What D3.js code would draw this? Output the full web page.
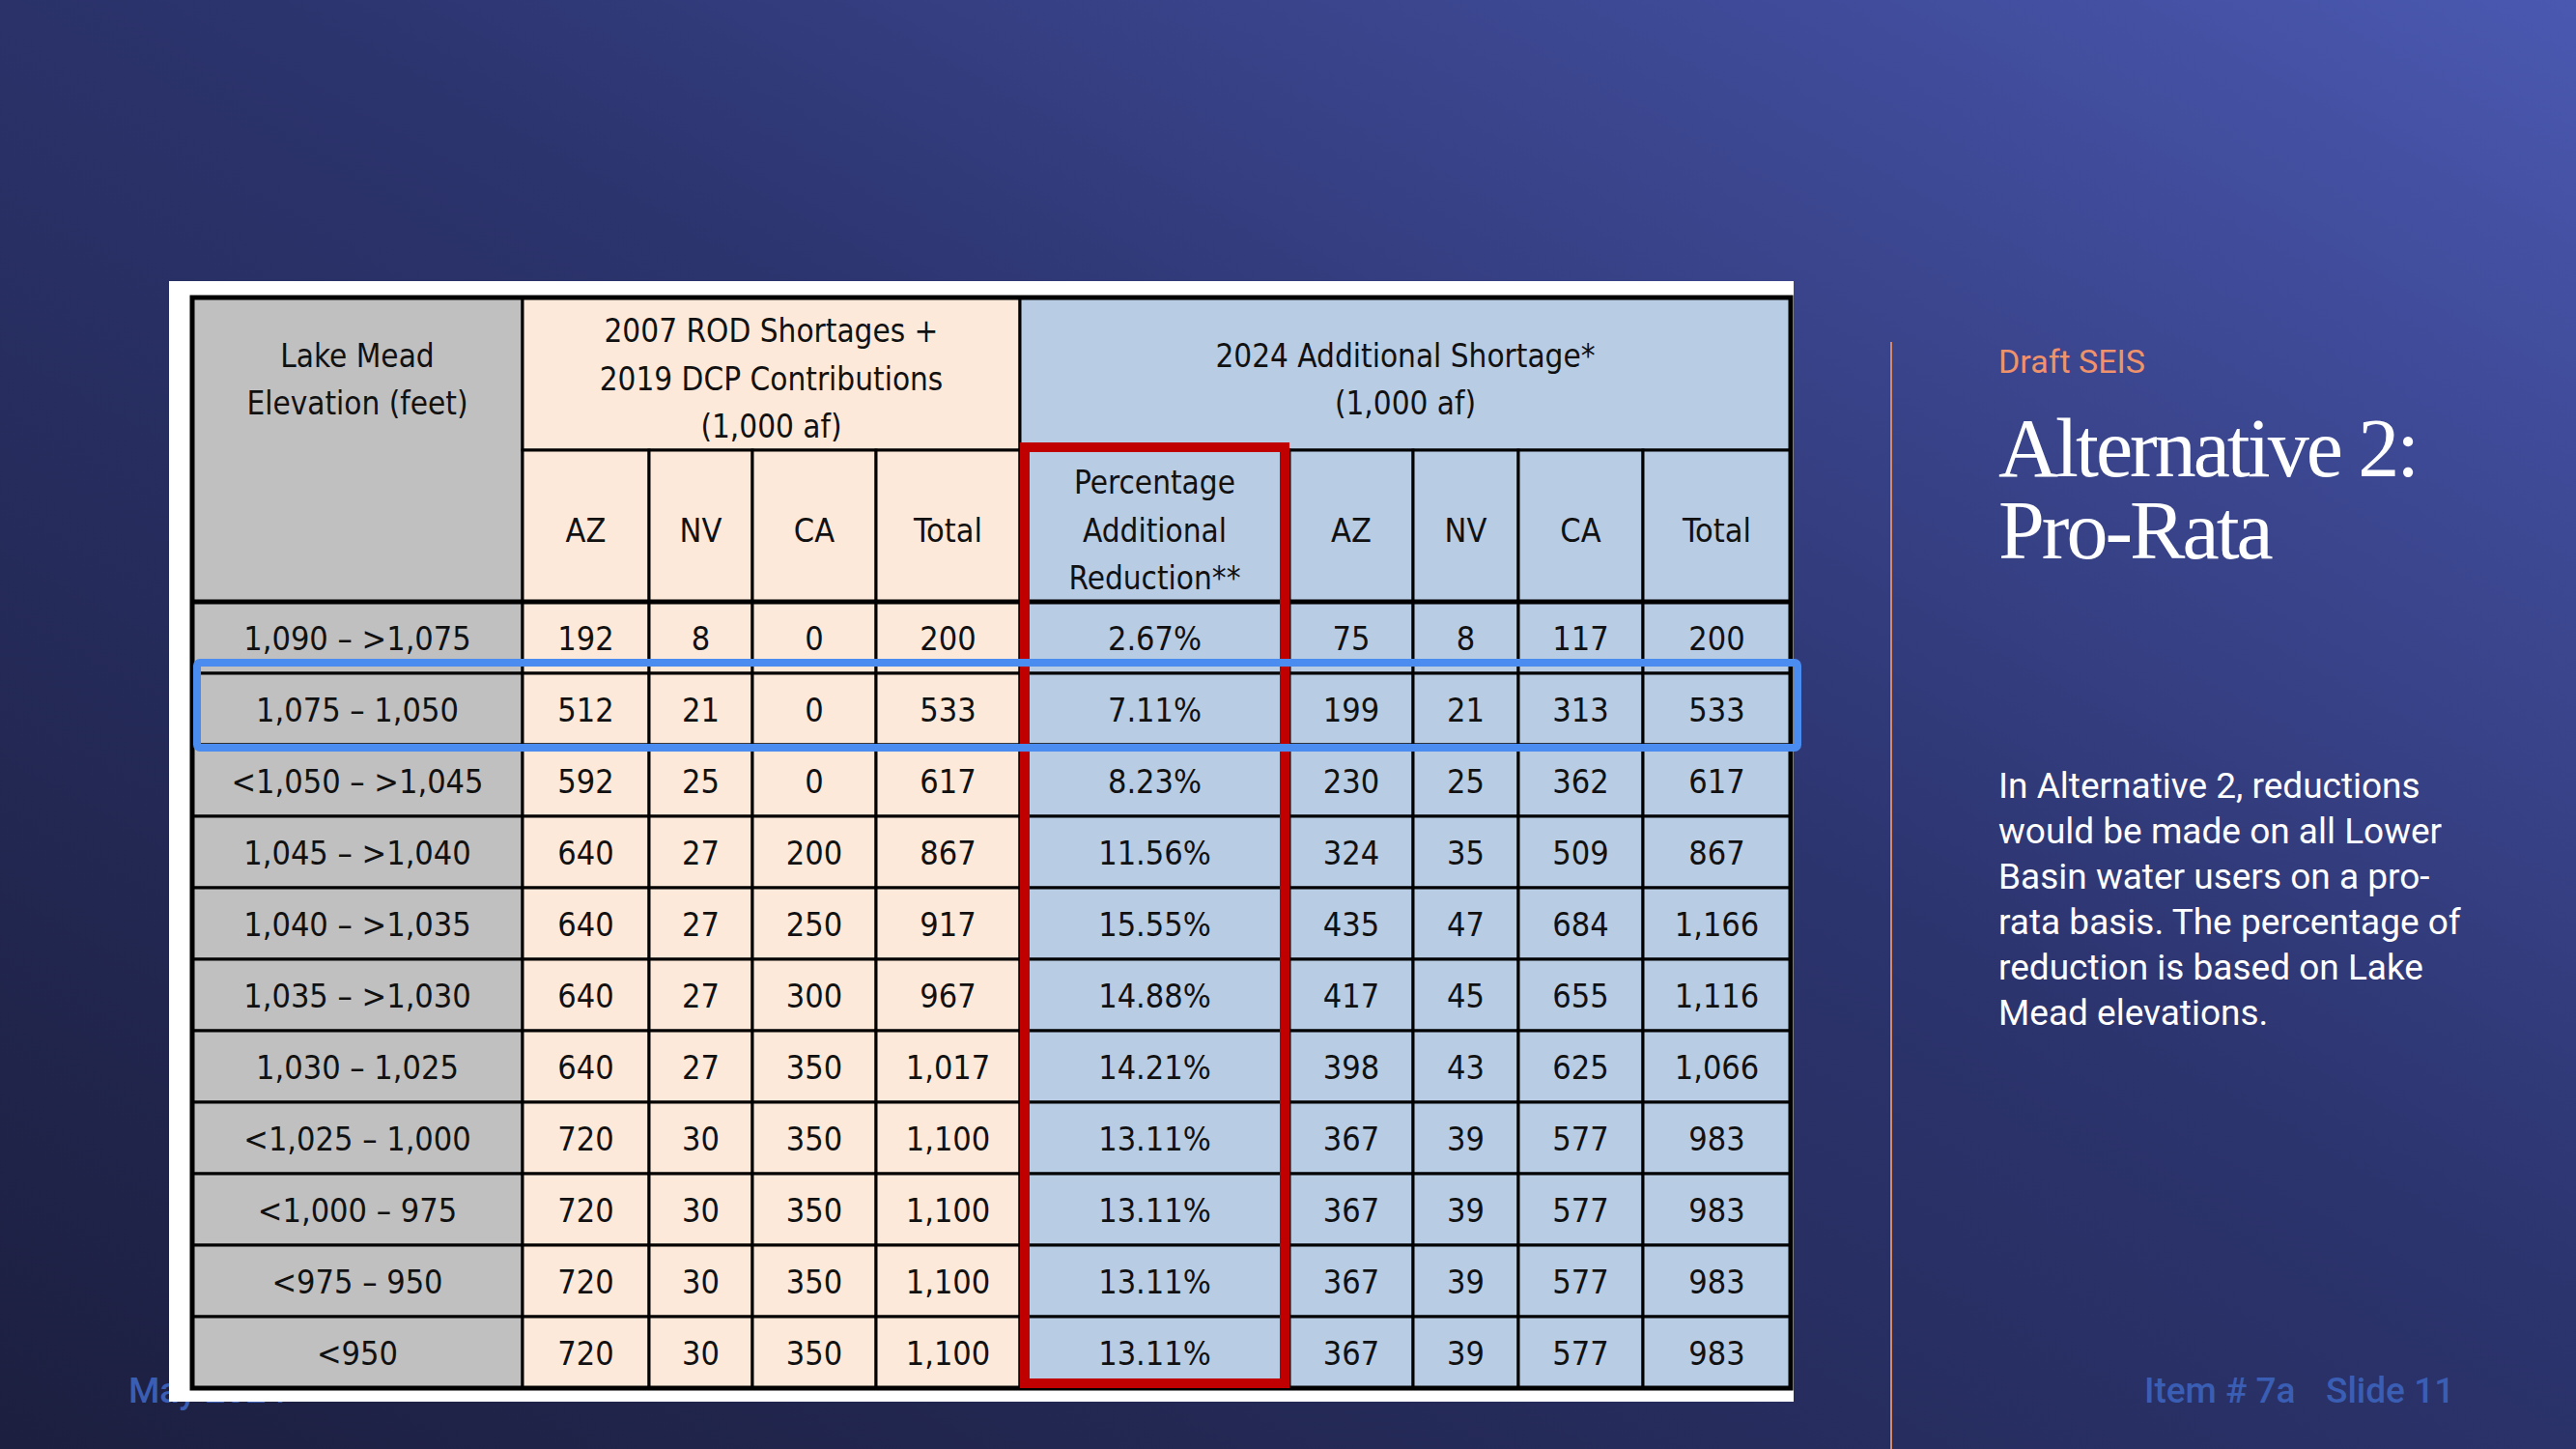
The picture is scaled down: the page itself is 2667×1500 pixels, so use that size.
<!DOCTYPE html>
<html>
<head>
<meta charset="utf-8">
<script src="https://cdn.jsdelivr.net/npm/d3@7"></script>
<style>
    body { margin: 0; overflow: hidden; }
</style>
</head>
<body>
<svg id="chart" width="2667" height="1500"></svg>
<script>
var elevations = ["1,090 – >1,075", "1,075 – 1,050", "<1,050 – >1,045", "1,045 – >1,040", "1,040 – >1,035",
    "1,035 – >1,030", "1,030 – 1,025", "<1,025 – 1,000", "<1,000 – 975", "<975 – 950", "<950"]
var rodAZ = ["192", "512", "592", "640", "640", "640", "640", "720", "720", "720", "720"]
var rodNV = ["8", "21", "25", "27", "27", "27", "27", "30", "30", "30", "30"]
var rodCA = ["0", "0", "0", "200", "250", "300", "350", "350", "350", "350", "350"]
var rodTotal = ["200", "533", "617", "867", "917", "967", "1,017", "1,100", "1,100", "1,100", "1,100"]
var pctReduction = ["2.67%", "7.11%", "8.23%", "11.56%", "15.55%", "14.88%", "14.21%", "13.11%", "13.11%", "13.11%", "13.11%"]
var addAZ = ["75", "199", "230", "324", "435", "417", "398", "367", "367", "367", "367"]
var addNV = ["8", "21", "25", "35", "47", "45", "43", "39", "39", "39", "39"]
var addCA = ["117", "313", "362", "509", "684", "655", "625", "577", "577", "577", "577"]
var addTotal = ["200", "533", "617", "867", "1,166", "1,116", "1,066", "983", "983", "983", "983"]

var columns = [elevations, rodAZ, rodNV, rodCA, rodTotal, pctReduction, addAZ, addNV, addCA, addTotal]
var subHeaders = ["", "AZ", "NV", "CA", "Total", "", "AZ", "NV", "CA", "Total"]
var colEdges = [199, 541, 672, 779, 907, 1056, 1335, 1463, 1572, 1701, 1854]
var colFill = ["#c0c0c0", "#fde9d9", "#fde9d9", "#fde9d9", "#fde9d9", "#b8cce4", "#b8cce4", "#b8cce4", "#b8cce4", "#b8cce4"]

var svg = d3.select("#chart")
var font = "'DejaVu Sans Condensed', 'DejaVu Sans', sans-serif"

// background
var defs = svg.append("defs")
var grad = defs.append("linearGradient").attr("id", "bg")
    .attr("x1", "0%").attr("y1", "100%").attr("x2", "100%").attr("y2", "0%")
grad.append("stop").attr("offset", "0%").attr("stop-color", "#1c1f3f")
grad.append("stop").attr("offset", "55%").attr("stop-color", "#2c346e")
grad.append("stop").attr("offset", "100%").attr("stop-color", "#4a58b0")
svg.append("rect").attr("width", 2667).attr("height", 1500).attr("fill", "url(#bg)")

// footer left (mostly hidden by the table)
svg.append("text").attr("x", 133).attr("y", 1452).attr("fill", "#3a5eb4")
    .style("font", "500 37px Roboto").text("May 2024")

// white card
svg.append("rect").attr("x", 175).attr("y", 291).attr("width", 1682).attr("height", 1160).attr("fill", "#ffffff")

var y = d3.scaleBand().domain(d3.range(elevations.length)).range([623, 1437])
var tableTop = 308, midY = 466, headY = 623

function cell(x0, x1, y0, y1, fill) {
    svg.append("rect").attr("x", x0).attr("y", y0).attr("width", x1 - x0).attr("height", y1 - y0)
        .attr("fill", fill).attr("stroke", "#000").attr("stroke-width", 3)
}
function lines(textLines, cx, cy, size) {
    var lh = size * 1.5
    textLines.forEach(function(t, i) {
        svg.append("text").attr("x", cx).attr("y", cy + (i - (textLines.length - 1) / 2) * lh)
            .attr("text-anchor", "middle").attr("dominant-baseline", "central")
            .style("font-family", font).style("font-size", size + "px").attr("fill", "#111").text(t)
    })
}

// header cells
cell(colEdges[0], colEdges[1], tableTop, headY, colFill[0])
lines(["Lake Mead", "Elevation (feet)"], (colEdges[0] + colEdges[1]) / 2, 393, 33)
cell(colEdges[1], colEdges[5], tableTop, midY, colFill[1])
lines(["2007 ROD Shortages +", "2019 DCP Contributions", "(1,000 af)"], (colEdges[1] + colEdges[5]) / 2, 392, 33)
cell(colEdges[5], colEdges[10], tableTop, midY, colFill[5])
lines(["2024 Additional Shortage*", "(1,000 af)"], (colEdges[5] + colEdges[10]) / 2, 393, 33)

for (var c = 1; c < columns.length; c++) {
    cell(colEdges[c], colEdges[c + 1], midY, headY, colFill[c])
    if (c === 5) lines(["Percentage", "Additional", "Reduction**"], (colEdges[c] + colEdges[c + 1]) / 2, 549, 33)
    else lines([subHeaders[c]], (colEdges[c] + colEdges[c + 1]) / 2, 549, 34)
}

// body
columns.forEach(function(col, ci) {
    col.forEach(function(v, ri) {
        cell(colEdges[ci], colEdges[ci + 1], y(ri), y(ri) + y.bandwidth(), colFill[ci])
        lines([v], (colEdges[ci] + colEdges[ci + 1]) / 2, y(ri) + y.bandwidth() / 2 + 1, 34)
    })
})

svg.append("line").attr("x1", colEdges[0]).attr("x2", colEdges[10]).attr("y1", headY).attr("y2", headY)
    .attr("stroke", "#000").attr("stroke-width", 5)
svg.append("rect").attr("x", colEdges[0]).attr("y", tableTop).attr("width", colEdges[10] - colEdges[0])
    .attr("height", 1437 - tableTop).attr("fill", "none").attr("stroke", "#000").attr("stroke-width", 5)

// highlight boxes
svg.append("rect").attr("x", colEdges[5] + 5).attr("y", 463).attr("width", colEdges[6] - colEdges[5] - 10)
    .attr("height", 1432 - 463).attr("fill", "none").attr("stroke", "#c00000").attr("stroke-width", 10)
svg.append("rect").attr("x", 204).attr("y", y(1) - 11).attr("width", 1657).attr("height", y.bandwidth() + 14)
    .attr("fill", "none").attr("stroke", "#4a8cf0").attr("stroke-width", 8).attr("rx", 3)

// right panel
svg.append("line").attr("x1", 1958).attr("x2", 1958).attr("y1", 354).attr("y2", 1500)
    .attr("stroke", "#d4896a").attr("stroke-width", 2)
svg.append("text").attr("x", 2069).attr("y", 386).attr("fill", "#f0936b")
    .style("font", "34px Roboto").text("Draft SEIS")
svg.append("text").attr("x", 2069).attr("y", 493).attr("fill", "#fff")
    .style("font", "86px 'Liberation Serif', serif").style("letter-spacing", "-3px").text("Alternative 2:")
svg.append("text").attr("x", 2069).attr("y", 578).attr("fill", "#fff")
    .style("font", "86px 'Liberation Serif', serif").style("letter-spacing", "-3px").text("Pro-Rata")

var body = ["In Alternative 2, reductions", "would be made on all Lower", "Basin water users on a pro-",
    "rata basis. The percentage of", "reduction is based on Lake", "Mead elevations."]
body.forEach(function(t, i) {
    svg.append("text").attr("x", 2069).attr("y", 826 + i * 47).attr("fill", "#fff")
        .style("font", "37px Roboto").text(t)
})

svg.append("text").attr("x", 2220).attr("y", 1452).attr("fill", "#3a5eb4")
    .style("font", "500 37px Roboto").text("Item # 7a")
svg.append("text").attr("x", 2408).attr("y", 1452).attr("fill", "#3a5eb4")
    .style("font", "500 37px Roboto").text("Slide 11")
</script>
</body>
</html>
